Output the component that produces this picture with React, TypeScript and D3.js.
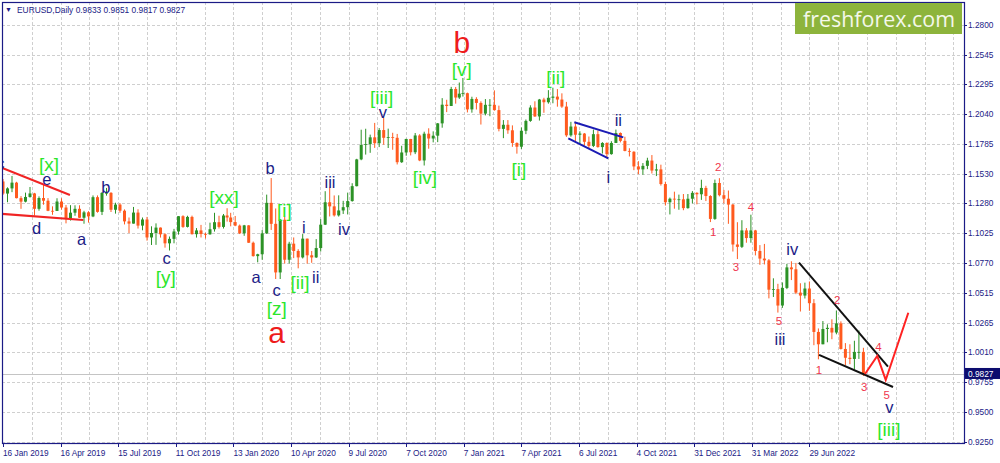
import * as d3 from "d3";
import React, { useEffect, useRef } from "react";

// weekly EURUSD bars, week of 14 Jan 2019 .. week of 19 Sep 2022
const firstOpen = 1.1467;

const weekHigh = [
  // 2019
  1.1488, 1.1417, 1.1514, 1.1464, 1.1342, 1.1372, 1.142, 1.137, 1.134, 1.1448,
  1.1325, 1.1255, 1.1324, 1.1324, 1.1266, 1.1265, 1.1264, 1.1264, 1.1217, 1.1214,
  1.1348, 1.1348, 1.1376, 1.1412, 1.1376, 1.1286, 1.1282, 1.1229, 1.116, 1.125,
  1.123, 1.116, 1.1165, 1.1085, 1.111, 1.1075, 1.1025, 1.0998, 1.1063, 1.1172,
  1.1179, 1.1175, 1.1176, 1.107, 1.1097, 1.103, 1.1116, 1.12, 1.1175, 1.119,
  1.1239,
  // 2020
  1.12, 1.1173, 1.11, 1.1097, 1.1095, 1.0955, 1.0851, 1.1053, 1.1355, 1.1496,
  1.1237, 1.1147, 1.1166, 1.0953, 1.099, 1.089, 1.1019, 1.098, 1.0875, 1.0976,
  1.1146, 1.1384, 1.1422, 1.1348, 1.1349, 1.1302, 1.1372, 1.1452, 1.166, 1.1908,
  1.1916, 1.1866, 1.1966, 1.1922, 1.2011, 1.1917, 1.1882, 1.1872, 1.1771, 1.1831,
  1.183, 1.188, 1.187, 1.1891, 1.192, 1.1894, 1.1965, 1.2177, 1.2163, 1.2273,
  1.2272, 1.231,
  // 2021
  1.2349, 1.2224, 1.2189, 1.2185, 1.215, 1.2169, 1.2169, 1.2243, 1.2113, 1.199,
  1.199, 1.1945, 1.18, 1.1927, 1.1995, 1.2116, 1.215, 1.217, 1.218, 1.2245,
  1.2266, 1.2254, 1.2218, 1.2145, 1.1975, 1.1975, 1.1895, 1.188, 1.185, 1.1909,
  1.19, 1.1802, 1.18, 1.181, 1.1909, 1.1885, 1.1848, 1.175, 1.1725, 1.164,
  1.1624, 1.1669, 1.1692, 1.1617, 1.161, 1.1465, 1.133, 1.138, 1.1355, 1.136,
  1.136, 1.1385,
  // 2022
  1.1375, 1.1482, 1.143, 1.135, 1.1483, 1.1495, 1.1395, 1.139, 1.1275, 1.112,
  1.1137, 1.107, 1.1184, 1.1055, 1.0925, 1.0935, 1.0806, 1.0642, 1.0595, 1.0607,
  1.0765, 1.0787, 1.0773, 1.06, 1.0605, 1.0615, 1.0465, 1.0215, 1.0278, 1.025,
  1.0293, 1.0368, 1.0275, 1.009, 1.008, 1.011, 1.0198, 1.005,
];

const weekLow = [
  // 2019
  1.1353, 1.129, 1.1376, 1.1323, 1.1234, 1.1289, 1.1329, 1.1176, 1.1218, 1.1269,
  1.1214, 1.1183, 1.1216, 1.1227, 1.111, 1.1134, 1.1175, 1.1156, 1.1107, 1.1116,
  1.1163, 1.1201, 1.1181, 1.1346, 1.1207, 1.1193, 1.12, 1.1101, 1.1027, 1.1108,
  1.1066, 1.1051, 1.0963, 1.0926, 1.0927, 1.0989, 1.0903, 1.0879, 1.094, 1.1014,
  1.1072, 1.1075, 1.1015, 1.0989, 1.099, 1.0981, 1.1013, 1.104, 1.1066, 1.1066,
  1.1125,
  // 2020
  1.1085, 1.1086, 1.1019, 1.1004, 1.0943, 1.0827, 1.0778, 1.08, 1.102, 1.1054,
  1.0636, 1.0636, 1.0768, 1.0768, 1.0814, 1.0727, 1.0811, 1.0767, 1.0774, 1.0815,
  1.087, 1.1096, 1.1169, 1.1168, 1.1168, 1.119, 1.1186, 1.1295, 1.1425, 1.1648,
  1.1696, 1.1711, 1.1753, 1.176, 1.178, 1.1752, 1.1737, 1.1612, 1.1625, 1.1686,
  1.1689, 1.17, 1.164, 1.1603, 1.1746, 1.18, 1.1802, 1.1925, 1.2058, 1.211,
  1.213, 1.217,
  // 2021
  1.219, 1.2055, 1.2053, 1.208, 1.1952, 1.203, 1.2023, 1.207, 1.1894, 1.1836,
  1.1873, 1.1762, 1.1704, 1.1744, 1.187, 1.1975, 1.2017, 1.1986, 1.2052, 1.213,
  1.2133, 1.2104, 1.2094, 1.1847, 1.1848, 1.1807, 1.1781, 1.1772, 1.1751, 1.176,
  1.1755, 1.1705, 1.1664, 1.1695, 1.1795, 1.18, 1.1724, 1.168, 1.1563, 1.1529,
  1.1524, 1.1572, 1.1535, 1.1513, 1.1432, 1.1262, 1.1186, 1.1235, 1.1226, 1.1222,
  1.1235, 1.128,
  // 2022
  1.1272, 1.131, 1.13, 1.1121, 1.114, 1.134, 1.128, 1.1106, 1.087, 1.0806,
  1.09, 1.0945, 1.0945, 1.0837, 1.0757, 1.076, 1.0471, 1.0483, 1.035, 1.039,
  1.055, 1.0627, 1.0507, 1.0359, 1.047, 1.0365, 1.0072, 0.9952, 1.008, 1.0097,
  1.0123, 1.0165, 1.0035, 0.9901, 0.991, 0.9864, 0.9955, 0.981,
];

const weekClose = [
  // 2019
  1.1364, 1.1408, 1.1457, 1.1325, 1.1295, 1.1335, 1.1365, 1.1234, 1.1326, 1.1303,
  1.1217, 1.1216, 1.1296, 1.1245, 1.115, 1.1201, 1.1234, 1.1158, 1.1204, 1.1169,
  1.1333, 1.1208, 1.137, 1.137, 1.1226, 1.127, 1.1218, 1.1127, 1.1108, 1.1202,
  1.1091, 1.1143, 1.099, 1.1028, 1.1074, 1.1017, 1.094, 1.0978, 1.1041, 1.1171,
  1.108, 1.1165, 1.1018, 1.105, 1.102, 1.1017, 1.106, 1.112, 1.108, 1.1177,
  1.116,
  // 2020
  1.1121, 1.1091, 1.1025, 1.1093, 1.0945, 1.0831, 1.0847, 1.1025, 1.1285, 1.1106,
  1.0692, 1.1141, 1.08, 1.0937, 1.0875, 1.082, 1.098, 1.0838, 1.082, 1.09,
  1.1099, 1.129, 1.1255, 1.1178, 1.122, 1.1248, 1.13, 1.1427, 1.1655, 1.1778,
  1.1785, 1.1843, 1.1793, 1.1905, 1.1839, 1.1845, 1.1839, 1.1631, 1.1714, 1.1829,
  1.1716, 1.1859, 1.1646, 1.1874, 1.1833, 1.1857, 1.1962, 1.2121, 1.211, 1.2255,
  1.2182, 1.2215,
  // 2021
  1.2219, 1.2081, 1.217, 1.2136, 1.2045, 1.212, 1.212, 1.2075, 1.1915, 1.195,
  1.1903, 1.1795, 1.1763, 1.1899, 1.1983, 1.2097, 1.2021, 1.2165, 1.2142, 1.218,
  1.219, 1.2165, 1.2105, 1.186, 1.1935, 1.1865, 1.1875, 1.1805, 1.177, 1.187,
  1.176, 1.1795, 1.17, 1.1795, 1.188, 1.1813, 1.1727, 1.172, 1.1595, 1.157,
  1.16, 1.1645, 1.156, 1.157, 1.1445, 1.129, 1.132, 1.1315, 1.1315, 1.124,
  1.132, 1.137,
  // 2022
  1.1358, 1.1412, 1.1343, 1.1148, 1.1454, 1.135, 1.132, 1.127, 1.093, 1.091,
  1.105, 1.0985, 1.105, 1.0875, 1.081, 1.0795, 1.0545, 1.055, 1.041, 1.056,
  1.0735, 1.0719, 1.052, 1.0495, 1.0555, 1.043, 1.0185, 1.008, 1.021, 1.022,
  1.018, 1.0258, 1.004, 0.9965, 0.9955, 1.0015, 1.0015, 0.9827,
];

// weeks from which one more holiday bar is missing (Christmas / New Year)
const holidayWeeks = [50, 51, 102, 103];

const lastPrice = 0.9827;
const titleText = "EURUSD,Daily  0.9833 0.9851 0.9817 0.9827";

const priceTicks = [
  1.28, 1.2545, 1.2295, 1.204, 1.1785, 1.153, 1.128, 1.1025, 1.077, 1.0515,
  1.0265, 1.001, 0.9755, 0.95, 0.925,
];

const dateLabels = [
  "16 Jan 2019", "16 Apr 2019", "15 Jul 2019", "11 Oct 2019", "13 Jan 2020",
  "10 Apr 2020", "9 Jul 2020", "7 Oct 2020", "7 Jan 2021", "7 Apr 2021",
  "6 Jul 2021", "4 Oct 2021", "31 Dec 2021", "31 Mar 2022", "29 Jun 2022",
];

interface ILabel {
  text: string;
  bar: number;
  price: number;
}

// wave labels: bar = daily bar number counted from 16 Jan 2019
const navyLabels: ILabel[] = [
  { text: "c", bar: -3, price: 1.1624 },
  { text: "e", bar: 48.6, price: 1.1488 },
  { text: "d", bar: 37.4, price: 1.1071 },
  { text: "a", bar: 87.4, price: 1.0977 },
  { text: "b", bar: 114.4, price: 1.142 },
  { text: "c", bar: 181.9, price: 1.0815 },
  { text: "a", bar: 281.1, price: 1.0653 },
  { text: "b", bar: 296.7, price: 1.1582 },
  { text: "c", bar: 304.1, price: 1.0542 },
  { text: "i", bar: 334.4, price: 1.1079 },
  { text: "ii", bar: 347.4, price: 1.0653 },
  { text: "iii", bar: 363.3, price: 1.1462 },
  { text: "iv", bar: 378.9, price: 1.1062 },
  { text: "v", bar: 422.2, price: 1.2059 },
  { text: "i", bar: 672.6, price: 1.1505 },
  { text: "ii", bar: 683.7, price: 1.1991 },
  { text: "iii", bar: 863.3, price: 1.0125 },
  { text: "iv", bar: 877, price: 1.0892 },
  { text: "v", bar: 984.8, price: 0.9546 },
];

const greenLabels: ILabel[] = [
  { text: "[x]", bar: 51.1, price: 1.1616 },
  { text: "[y]", bar: 180.8, price: 1.0653 },
  { text: "[xx]", bar: 245.6, price: 1.1335 },
  { text: "[z]", bar: 304.1, price: 1.0389 },
  { text: "[i]", bar: 312.6, price: 1.1224 },
  { text: "[ii]", bar: 330, price: 1.0611 },
  { text: "[iii]", bar: 420.8, price: 1.2187 },
  { text: "[iv]", bar: 468.9, price: 1.1505 },
  { text: "[v]", bar: 509.7, price: 1.2425 },
  { text: "[i]", bar: 573.3, price: 1.1573 },
  { text: "[ii]", bar: 614.1, price: 1.2357 },
  { text: "[iii]", bar: 984.4, price: 0.9358 },
];

const bigRedLabels: ILabel[] = [
  { text: "a", bar: 304.1, price: 1.0185 },
  { text: "b", bar: 509.7, price: 1.2655 },
];

const numberLabels: ILabel[] = [
  { text: "1", bar: 789.2, price: 1.1037 },
  { text: "2", bar: 794.8, price: 1.159 },
  { text: "3", bar: 814.4, price: 1.0738 },
  { text: "4", bar: 831.1, price: 1.125 },
  { text: "5", bar: 862.2, price: 1.0278 },
  { text: "1", bar: 906.7, price: 0.9861 },
  { text: "2", bar: 927, price: 1.0457 },
  { text: "3", bar: 957, price: 0.9716 },
  { text: "4", bar: 972.6, price: 1.0057 },
  { text: "5", bar: 981.9, price: 0.9648 },
];

type Pt = [number, number]; // [bar, price]

const redTriangle: Pt[][] = [
  [[-3, 1.1588], [74.4, 1.1352]],
  [[-3, 1.1192], [89.2, 1.1139]],
];
const blueChannel: Pt[][] = [
  [[634.8, 1.1971], [689.2, 1.1843]],
  [[628.1, 1.1835], [672.6, 1.1664]],
];
const blackWedge: Pt[][] = [
  [[884.4, 1.0775], [983.3, 0.9889]],
  [[906.7, 0.9989], [988.9, 0.9716]],
];
const redForecast: Pt[] = [
  [957.8, 0.9827],
  [971.4, 0.998],
  [980.8, 0.9776],
  [1005.9, 1.0349],
];

const FONT = "'Liberation Sans', Arial, sans-serif";
const NAVY = "#1b1b86";

const App: React.FC = () => {
  const svgRef = useRef<SVGSVGElement>(null);

  useEffect(() => {
    const svg = d3.select(svgRef.current);
    svg.selectAll("*").remove();

    const left = 2;
    const top = 2;
    const right = 964;
    const bottom = 443;

    const x = d3.scaleLinear().domain([0, 896]).range([3, 809.4]);
    const y = d3.scaleLinear().domain([0.925, 1.28]).range([441.7, 25]);

    const barOf = (w: number) =>
      5 * w - holidayWeeks.filter((h) => w >= h).length;

    svg
      .append("rect")
      .attr("width", 1000)
      .attr("height", 463)
      .attr("fill", "#ffffff");

    svg
      .append("defs")
      .append("clipPath")
      .attr("id", "plot-clip")
      .append("rect")
      .attr("x", left)
      .attr("y", top)
      .attr("width", right - left)
      .attr("height", bottom - top);

    // grid
    const grid = svg
      .append("g")
      .attr("stroke", "#cfcfcf")
      .attr("stroke-dasharray", "3,2")
      .attr("shape-rendering", "crispEdges");
    grid
      .selectAll("line.h")
      .data(priceTicks)
      .join("line")
      .attr("class", "h")
      .attr("x1", left)
      .attr("x2", right)
      .attr("y1", (d) => Math.round(y(d)) + 0.5)
      .attr("y2", (d) => Math.round(y(d)) + 0.5);
    grid
      .selectAll("line.v")
      .data(d3.range(32, 1200, 32).filter((b) => x(b) < right - 2))
      .join("line")
      .attr("class", "v")
      .attr("x1", (d) => Math.round(x(d)) + 0.5)
      .attr("x2", (d) => Math.round(x(d)) + 0.5)
      .attr("y1", top)
      .attr("y2", bottom);

    const plot = svg.append("g").attr("clip-path", "url(#plot-clip)");

    // current price line
    plot
      .append("line")
      .attr("x1", left)
      .attr("x2", right)
      .attr("y1", Math.round(y(lastPrice)) + 0.5)
      .attr("y2", Math.round(y(lastPrice)) + 0.5)
      .attr("stroke", "#c4c4c4")
      .attr("stroke-width", 1);

    // candles
    const bars = weekClose.map((close, i) => ({
      bar: barOf(i),
      open: i === 0 ? firstOpen : weekClose[i - 1],
      high: weekHigh[i],
      low: weekLow[i],
      close,
    }));
    const upColor = "#2c9226";
    const downColor = "#ff5a1e";
    const candles = plot
      .append("g")
      .selectAll("g")
      .data(bars)
      .join("g")
      .attr("fill", (d) => (d.close >= d.open ? upColor : downColor))
      .attr("stroke", (d) => (d.close >= d.open ? upColor : downColor));
    candles
      .append("line")
      .attr("x1", (d) => x(d.bar))
      .attr("x2", (d) => x(d.bar))
      .attr("y1", (d) => y(d.high))
      .attr("y2", (d) => y(d.low))
      .attr("stroke-width", 1);
    candles
      .append("rect")
      .attr("x", (d) => x(d.bar) - 1.5)
      .attr("width", 3)
      .attr("y", (d) => y(Math.max(d.open, d.close)))
      .attr("height", (d) =>
        Math.max(0.8, Math.abs(y(d.open) - y(d.close)))
      )
      .attr("stroke", "none");

    // trend lines
    const line = d3
      .line<Pt>()
      .x((d) => x(d[0]))
      .y((d) => y(d[1]));
    const drawLines = (segs: Pt[][], color: string) =>
      plot
        .append("g")
        .selectAll("path")
        .data(segs)
        .join("path")
        .attr("d", (d) => line(d))
        .attr("fill", "none")
        .attr("stroke", color)
        .attr("stroke-width", 2);
    drawLines(redTriangle, "#f02424");
    drawLines(blueChannel, "#1c1cb4");
    drawLines(blackWedge, "#111111");
    drawLines([redForecast], "#ff2222");

    // wave labels
    const drawLabels = (
      labels: ILabel[],
      color: string,
      size: number
    ) =>
      plot
        .append("g")
        .selectAll("text")
        .data(labels)
        .join("text")
        .attr("x", (d) => x(d.bar))
        .attr("y", (d) => y(d.price))
        .attr("dy", "0.36em")
        .attr("text-anchor", "middle")
        .attr("font-family", FONT)
        .attr("font-size", size)
        .attr("fill", color)
        .text((d) => d.text);
    drawLabels(navyLabels, NAVY, 16.5);
    drawLabels(greenLabels, "#2be62b", 19);
    drawLabels(bigRedLabels, "#ee1c1c", 30);
    drawLabels(numberLabels, "#f0364e", 11.5);

    // frame
    svg
      .append("rect")
      .attr("x", left + 0.5)
      .attr("y", top + 0.5)
      .attr("width", right - left)
      .attr("height", bottom - top)
      .attr("fill", "none")
      .attr("stroke", NAVY)
      .attr("stroke-width", 1.2);

    // price axis
    const yAxis = svg.append("g").attr("font-family", FONT);
    yAxis
      .selectAll("line")
      .data(priceTicks)
      .join("line")
      .attr("x1", right)
      .attr("x2", right + 3)
      .attr("y1", (d) => Math.round(y(d)) + 0.5)
      .attr("y2", (d) => Math.round(y(d)) + 0.5)
      .attr("stroke", NAVY);
    yAxis
      .selectAll("text")
      .data(priceTicks)
      .join("text")
      .attr("x", right + 4)
      .attr("y", (d) => y(d) + 3)
      .attr("font-size", 8.3)
      .attr("fill", NAVY)
      .text((d) => d.toFixed(4));

    // last price marker
    yAxis
      .append("rect")
      .attr("x", right + 1)
      .attr("y", y(lastPrice) - 6)
      .attr("width", 1000 - right)
      .attr("height", 11)
      .attr("fill", "#0c0c6e");
    yAxis
      .append("text")
      .attr("x", right + 4)
      .attr("y", y(lastPrice) + 3)
      .attr("font-size", 8.3)
      .attr("fill", "#ffffff")
      .text(lastPrice.toFixed(4));

    // date axis
    const xAxis = svg.append("g").attr("font-family", FONT);
    xAxis
      .selectAll("line")
      .data(dateLabels)
      .join("line")
      .attr("x1", (_, i) => Math.round(x(i * 64)) + 0.5)
      .attr("x2", (_, i) => Math.round(x(i * 64)) + 0.5)
      .attr("y1", bottom)
      .attr("y2", bottom + 4)
      .attr("stroke", NAVY);
    xAxis
      .selectAll("text")
      .data(dateLabels)
      .join("text")
      .attr("x", (_, i) => x(i * 64))
      .attr("y", 456)
      .attr("font-size", 8.3)
      .attr("fill", NAVY)
      .text((d) => d);

    // title
    const title = svg.append("g").attr("font-family", FONT).attr("fill", NAVY);
    title
      .append("text")
      .attr("x", 5)
      .attr("y", 12)
      .attr("font-size", 7)
      .text("▼");
    title
      .append("text")
      .attr("x", 17)
      .attr("y", 12.5)
      .attr("font-size", 8.4)
      .text(titleText);

    // logo
    const logo = svg.append("g");
    logo
      .append("rect")
      .attr("x", 795)
      .attr("y", top + 1)
      .attr("width", right - 795 - 2)
      .attr("height", 31)
      .attr("fill", "#8db43c");
    logo
      .append("text")
      .attr("x", 879)
      .attr("y", 27)
      .attr("text-anchor", "middle")
      .attr("font-family", "'Open Sans', 'Noto Sans', sans-serif")
      .attr("font-size", 22)
      .attr("textLength", 152)
      .attr("lengthAdjust", "spacingAndGlyphs")
      .attr("fill", "#f4f8ea")
      .text("freshforex.com");
  }, []);

  return (
    <svg
      ref={svgRef}
      width={1000}
      height={463}
      style={{ position: "absolute", left: 0, top: 0 }}
    />
  );
};

export default App;
